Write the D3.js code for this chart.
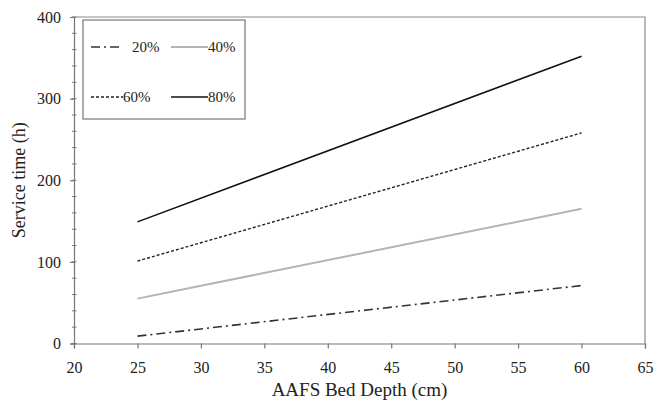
<!DOCTYPE html>
<html>
<head>
<meta charset="utf-8">
<script src="https://cdn.jsdelivr.net/npm/d3@7"></script>
<style>
  body { margin: 0; background: #fff; }
  svg text { font-family: 'Times New Roman', 'Liberation Serif', Times, 'DejaVu Serif', serif; fill: #222; }
</style>
</head>
<body>
<div id="chart"></div>
<script>
// bed depth (cm) at which each curve is given
const depths = [25, 60];
// service time (h) per breakthrough level
const s20 = [9, 71];
const s40 = [55, 165];
const s60 = [101, 258];
const s80 = [149, 352];
const seriesNames = ['20%', '40%', '60%', '80%'];
const xTicks = [20, 25, 30, 35, 40, 45, 50, 55, 60, 65];
const yTicks = [0, 100, 200, 300, 400];
const yMinorTicks = d3.range(0, 401, 20);

const W = 656;
const H = 403;
const margin = { top: 17, right: 11, bottom: 59.5, left: 74 };
const width = W - margin.left - margin.right;
const height = H - margin.top - margin.bottom;
const serif = "'Times New Roman', 'Liberation Serif', Times, serif";

const styles = {
  '20%': { stroke: '#333', width: 1.6, dash: '9,4,2,4' },
  '40%': { stroke: '#b4b4b4', width: 2, dash: null },
  '60%': { stroke: '#222', width: 1.4, dash: '3,2' },
  '80%': { stroke: '#111', width: 1.5, dash: null }
};

const series = [s20, s40, s60, s80].map((vals, i) => ({
  name: seriesNames[i],
  values: depths.map((d, j) => ({ x: d, y: vals[j] }))
}));

const svg = d3.select('#chart')
  .append('svg')
  .attr('width', W)
  .attr('height', H)
  .attr('font-family', serif)
  .append('g')
  .attr('transform', `translate(${margin.left}, ${margin.top})`);

const xScale = d3.scaleLinear().domain([20, 65]).range([0, width]);
const yScale = d3.scaleLinear().domain([0, 400]).range([height, 0]);

// frame (top and right)
svg.append('path')
  .attr('d', `M0,0H${width}V${height}`)
  .attr('fill', 'none')
  .attr('stroke', '#8a8a8a')
  .attr('stroke-width', 1.2);

// minor y ticks
svg.append('g')
  .attr('class', 'y minor')
  .selectAll('line')
  .data(yMinorTicks)
  .join('line')
  .attr('x1', -2)
  .attr('x2', 2.5)
  .attr('y1', (d) => yScale(d))
  .attr('y2', (d) => yScale(d))
  .attr('stroke', '#777')
  .attr('stroke-width', 1);

const xAxis = d3.axisBottom(xScale).tickValues(xTicks).tickSize(5).tickPadding(13);
const yAxis = d3.axisLeft(yScale).tickValues(yTicks).tickSize(4).tickPadding(9);

svg.append('g')
  .attr('class', 'x axis')
  .attr('transform', `translate(0, ${height})`)
  .call(xAxis);

svg.append('g')
  .attr('class', 'y axis')
  .call(yAxis);

svg.selectAll('.axis')
  .attr('font-family', serif)
  .attr('font-size', 16);
svg.selectAll('.axis path, .axis line')
  .attr('stroke', '#777')
  .attr('stroke-width', 1.2);
svg.selectAll('.axis text')
  .attr('fill', '#222');

// axis titles, centred on the plot area
svg.append('text')
  .attr('x', width / 2)
  .attr('y', height + 52.5)
  .attr('text-anchor', 'middle')
  .style('font-size', '19px')
  .text('AAFS Bed Depth (cm)');

svg.append('text')
  .attr('transform', `translate(${-49}, ${height / 2}) rotate(-90)`)
  .attr('text-anchor', 'middle')
  .style('font-size', '18px')
  .text('Service time (h)');

// lines
const line = d3.line()
  .x((d) => xScale(d.x))
  .y((d) => yScale(d.y));

svg.selectAll('path.series')
  .data(series)
  .join('path')
  .attr('class', 'series')
  .attr('fill', 'none')
  .attr('stroke', (d) => styles[d.name].stroke)
  .attr('stroke-width', (d) => styles[d.name].width)
  .attr('stroke-dasharray', (d) => styles[d.name].dash)
  .attr('d', (d) => line(d.values));

// legend
const legend = svg.append('g')
  .attr('class', 'legend')
  .attr('transform', 'translate(9, 3)');

legend.append('rect')
  .attr('width', 162)
  .attr('height', 99)
  .attr('fill', '#fff')
  .attr('stroke', '#777')
  .attr('stroke-width', 1.2);

const legendPos = [
  { x: 8, x2: 39, y: 27, tx: 49 },
  { x: 88, x2: 125, y: 27, tx: 125 },
  { x: 8, x2: 40, y: 77, tx: 40 },
  { x: 88, x2: 125, y: 77, tx: 125 }
];

series.forEach((s, i) => {
  const p = legendPos[i];
  const st = styles[s.name];
  legend.append('line')
    .attr('x1', p.x)
    .attr('x2', p.x2)
    .attr('y1', p.y)
    .attr('y2', p.y)
    .attr('stroke', st.stroke)
    .attr('stroke-width', st.width)
    .attr('stroke-dasharray', st.dash);
  legend.append('text')
    .attr('x', p.tx)
    .attr('y', p.y + 5)
    .style('font-size', '15px')
    .text(s.name);
});
</script>
</body>
</html>
